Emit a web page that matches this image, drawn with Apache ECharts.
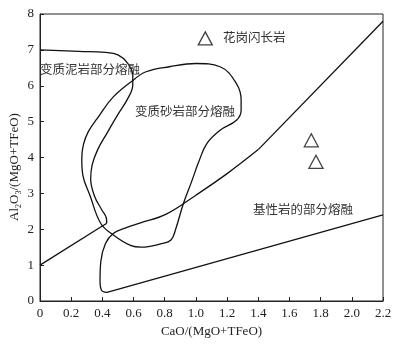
<!DOCTYPE html>
<html>
<head>
<meta charset="utf-8">
<script src="https://cdn.jsdelivr.net/npm/echarts@6/dist/echarts.min.js"></script>
<style>
  html, body { margin: 0; padding: 0; background: #fff; }
  #chart { width: 407px; height: 350px; }
</style>
</head>
<body>
<div id="chart"></div>
<script>
// Field boundaries in CaO/(MgO+TFeO) vs Al2O3/(MgO+TFeO) space
const metapeliteCurve = [[0, 7.0], [0.25, 6.96], [0.42, 6.93], [0.5, 6.86], [0.56, 6.64], [0.595, 6.3], [0.595, 6.02], [0.56, 5.62], [0.5, 5.2], [0.43, 4.68], [0.37, 4.22], [0.335, 3.8], [0.325, 3.4], [0.35, 2.92], [0.395, 2.55], [0.425, 2.32], [0.428, 2.18], [0.41, 2.12]];
const metapeliteBase = [[0, 1.0], [0.41, 2.12]];
const metagreywackeLoop = [[0.6, 6.16], [0.68, 6.39], [0.83, 6.53], [1.0, 6.62], [1.155, 6.53], [1.26, 6.06], [1.29, 5.6], [1.29, 5.32], [1.26, 5.04], [1.155, 4.76], [1.07, 4.39], [1.02, 3.9], [0.97, 3.3], [0.92, 2.72], [0.87, 2.0], [0.84, 1.7], [0.78, 1.6], [0.65, 1.5], [0.58, 1.55], [0.47, 1.84], [0.39, 2.16], [0.32, 2.95], [0.275, 3.5], [0.268, 3.95], [0.278, 4.35], [0.31, 4.72], [0.38, 5.17], [0.47, 5.69], [0.6, 6.16]];
const amphiboliteLower = [[2.2, 2.4], [0.43, 0.24]];
const amphiboliteCorner = [[0.43, 0.24], [0.395, 0.3], [0.385, 0.55], [0.39, 1.1], [0.42, 1.6], [0.47, 1.88], [0.55, 2.04], [0.64, 2.17], [0.81, 2.42], [1.0, 2.95], [1.2, 3.55], [1.4, 4.22]];
const amphiboliteUpper = [[1.4, 4.22], [2.2, 7.8]];

// Granodiorite samples
const granodiorite = [[1.06, 7.32], [1.74, 4.48], [1.77, 3.88]];

const xTicks = [0, 0.2, 0.4, 0.6, 0.8, 1.0, 1.2, 1.4, 1.6, 1.8, 2.0, 2.2];
const yTicks = [0, 1, 2, 3, 4, 5, 6, 7, 8];

const serif = '"Liberation Serif", "DejaVu Serif", serif';
const cjk = '"Noto Sans CJK SC", sans-serif';

const chart = echarts.init(document.getElementById('chart'), null, { renderer: 'canvas' });

function boundary(data, smooth) {
  return {
    type: 'line', data: data, smooth: smooth ? 0.4 : false, symbol: 'none',
    lineStyle: { color: '#111', width: 1.3 }, silent: true, z: 3
  };
}

chart.setOption({
  animation: false,
  backgroundColor: '#fff',
  grid: { left: 40, right: 24, top: 14, bottom: 49, show: true, borderColor: '#222', borderWidth: 1, backgroundColor: 'transparent' },
  xAxis: {
    type: 'value', min: xTicks[0], max: xTicks[xTicks.length - 1], interval: 0.2,
    name: 'CaO/(MgO+TFeO)', nameLocation: 'middle', nameGap: 21,
    nameTextStyle: { fontFamily: serif, fontSize: 13, color: '#222' },
    axisLine: { lineStyle: { color: '#222', width: 1 } },
    axisTick: { inside: true, length: 4, lineStyle: { color: '#222' } },
    axisLabel: { fontFamily: serif, fontSize: 13, color: '#222', margin: 6,
      formatter: v => v === 0 ? '0' : v.toFixed(1) },
    splitLine: { show: false }
  },
  yAxis: {
    type: 'value', min: yTicks[0], max: yTicks[yTicks.length - 1], interval: 1,
    axisLine: { lineStyle: { color: '#222', width: 1 } },
    axisTick: { inside: true, length: 4, lineStyle: { color: '#222' } },
    axisLabel: { fontFamily: serif, fontSize: 13, color: '#222', margin: 6 },
    splitLine: { show: false }
  },
  series: [
    boundary(metapeliteCurve, true),
    boundary(metapeliteBase, false),
    boundary(metagreywackeLoop, true),
    boundary(amphiboliteLower, false),
    boundary(amphiboliteCorner, true),
    boundary(amphiboliteUpper, false),
    {
      type: 'scatter', data: granodiorite, symbol: 'triangle', symbolSize: [14, 13],
      itemStyle: { color: '#fff', borderColor: '#111', borderWidth: 1.3 }, z: 5
    }
  ],
  graphic: [
    // y-axis title with subscripts
    {
      type: 'text', x: 15, y: 167, rotation: Math.PI / 2,
      style: {
        text: 'Al{s|2}O{s|3}/(MgO+TFeO)', align: 'center', verticalAlign: 'middle',
        font: '13px ' + serif, fill: '#222',
        rich: { s: { fontFamily: serif, fontSize: 8, fill: '#222', padding: [7, 0, 0, 0] } }
      }, z: 10
    },
    { type: 'text', left: 40, top: 63, style: { text: '变质泥岩部分熔融', font: '12.5px ' + cjk, fill: '#333' }, z: 10 },
    { type: 'text', left: 135, top: 105, style: { text: '变质砂岩部分熔融', font: '12.5px ' + cjk, fill: '#333' }, z: 10 },
    { type: 'text', left: 223, top: 31, style: { text: '花岗闪长岩', font: '12.5px ' + cjk, fill: '#333' }, z: 10 },
    { type: 'text', left: 253, top: 203, style: { text: '基性岩的部分熔融', font: '12.5px ' + cjk, fill: '#333' }, z: 10 }
  ]
});
</script>
</body>
</html>
